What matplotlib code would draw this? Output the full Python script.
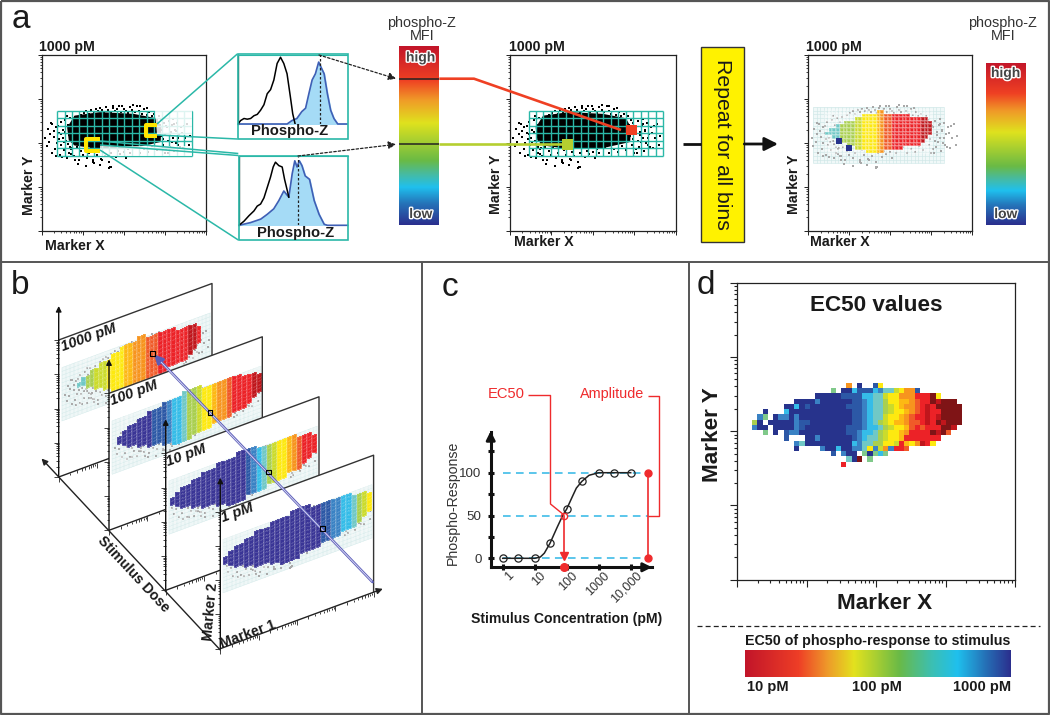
import numpy as np
import matplotlib
matplotlib.use("Agg")
import matplotlib.pyplot as plt
from matplotlib.colors import ListedColormap, BoundaryNorm, LinearSegmentedColormap
from matplotlib.patches import Polygon, Rectangle
from matplotlib.transforms import ScaledTranslation
from matplotlib import patheffects as pe

plt.rcParams['font.family'] = ['Liberation Sans', 'DejaVu Sans']
W, H = 1050, 715
DARK = '#222222'
TEAL = '#2bb8a8'

# ---------- data ----------
CODES = "ABCDEFgGHIJKLMNP"
CODE_COLORS = ['#27338c', '#2c58a6', '#3a82c4', '#35bce8', '#70c8c6', '#a9cf4f', '#80c98a', '#cbdb2c',
               '#fde910', '#fdb813', '#f7941e', '#f05a28', '#ec2227', '#c0161c', '#7f1416', '#3a3596']

ec50_rows = [
    "                  J A  BH               ",
    "               g AADBBBDCEEGHJJB        ",
    "            AAAAABBBBDDEEGHHJJJLLLNH    ",
    "        AAAACAAAAAABBCDEEFHHIIJKLLNMNNN ",
    "      AADABAAAAAAABBBCDEEFGHIJJKLMLNNNNN",
    "  A   DAAAAAAAAAAAABBCDEEFGHHIJKLMLLNNNN",
    " Cg ACCACAAAAAAAAAABBCDEEGHHIJKLLMLMNNNN",
    "FA AAAAACBBAAAAAAAABBCDEFGHIIJKKLMLNMNNN",
    "CAA AAAACBAAAAAAAABBBCDDEFGHHIKLKLLLNNM ",
    "  g A BCCAAAAAAAAABBCDDEFGHHIJLLLLNMNK  ",
    "      B   AACAAAAAABCDEEFGHHILLLLLLL    ",
    "        CEAAAAAAAAADCEEFFHHGLIHJMLH     ",
    "        A    CAADAACCEHCGJCLLK          ",
    "               B CAA gAgDg              ",
    "                  EAN g                 ",
    "                 L                      ",
]

mfi_row_spans = [(14, 15), (10, 22), (8, 27), (5, 28), (3, 28), (1, 28),
                 (0, 28), (2, 27), (4, 26), (6, 25), (8, 20), (11, 15)]
dose_row_spans = [(13, 16), (9, 24), (6, 27), (4, 28), (2, 28), (1, 28), (0, 28),
                  (0, 28), (1, 27), (2, 26), (4, 25), (6, 22), (9, 18), (11, 14)]
mfi_columns_a = "EEEEFFFFGGHHHHIJKKLLLLLLLLMMM"
dose_labels = ["1000 pM", "100 pM", "10 pM", "1 pM"]
dose_columns = ["EEFFGGGHHHHIIJJJKKKLLLLLLLMML",
                "PPPPPPPBBBCDDEFFGHHIJJKLLLLMM",
                "PPPPPPPPPPPPPPPBCDEFGHHIJKLLL",
                "PPPPPPPPPPPPPPPPPPPBBCCDDEFGH"]
dose_u_range = [(.12, .93), (.05, 1.0), (.03, .99), (.02, .99)]

dots_x = [.08,.12,.15,.18,.21,.24,.26,.3,.33,.35,.37,.41,.44,.46,.48,.51,.53,.55,.58,.6,.62,.64,.66,.68,.7,.72,.74,.76,.78,.8,.82,.84,.5,.43,.36,.29,.22,.57,.63,.69,.75,.81,.4,.47,.54,.61,.67,.73,.79,.85,
          .95,1.02,1.08,1.15,1.2,1.27,1.32,1.38,1.43,1.47,1.52,1.58,1.62,1.68,1.73,1.78,1.84,1.89,1.93,2.0,2.05,2.1,2.16,2.21,2.27,2.33,2.38,2.45,2.5,2.56,2.62,2.68,2.74,2.8,2.86,1.74,1.97,2.22,2.4,2.58,
          2.88,2.9,2.93,2.95,2.98,3.0,3.03,3.05,3.08,3.1,3.12,3.15,3.18,3.2,3.23,3.25,3.28,3.3,3.33,3.36,3.4,3.45,3.5,3.55,3.6,2.92,2.97,3.02,3.07,3.13,3.17,3.22,3.27,3.32,3.38,3.43,3.48,3.62,3.2,3.0,
          .72,.78,.85,.9,.95,1.0,1.05,1.1,1.15,1.2,1.25,1.3,1.35,1.4,1.45,1.5,1.55,1.6,1.65,1.7,1.75,1.8,1.85,1.9,1.95,2.0,2.05,2.1,2.15,2.2,2.3,2.4,2.5,2.6,2.7,2.8,.88,1.08,1.28,1.48,1.68,1.64,1.66,1.43,1.25]
dots_y = [2.1,1.92,2.31,2.02,2.2,1.78,2.42,2.13,1.86,2.35,2.0,2.23,1.72,2.47,1.95,2.11,2.3,1.83,2.52,2.05,1.66,2.4,2.18,1.9,2.56,1.75,2.27,2.0,2.48,1.6,2.15,2.38,1.68,2.09,1.7,2.28,2.45,2.24,1.98,2.36,1.88,2.58,2.38,2.2,2.02,2.6,1.78,2.12,1.7,2.3,
          2.63,2.68,2.72,2.66,2.74,2.7,2.78,2.73,2.8,2.75,2.71,2.82,2.74,2.69,2.79,2.72,2.76,2.84,2.7,2.77,2.73,2.68,2.81,2.74,2.7,2.83,2.72,2.66,2.78,2.63,2.7,2.6,2.66,2.55,2.62,2.85,2.84,2.86,2.84,2.8,
          2.4,2.15,2.3,1.95,2.45,2.2,1.85,2.35,2.05,2.5,1.9,2.25,2.4,2.1,1.82,2.3,2.0,2.45,1.95,2.2,2.35,1.88,2.1,2.42,1.95,2.52,2.08,2.38,1.78,2.18,2.02,2.44,2.28,2.12,1.9,2.22,2.38,2.15,2.55,1.76,
          1.85,1.7,1.9,1.62,1.82,1.72,1.88,1.66,1.78,1.9,1.6,1.84,1.72,1.92,1.64,1.8,1.7,1.88,1.56,1.76,1.9,1.68,1.82,1.74,1.9,1.8,1.66,1.86,1.76,1.88,1.9,1.78,1.86,1.8,1.92,1.84,1.52,1.48,1.55,1.6,1.46,1.42,1.44,1.5,1.56]
blob_x = [.62, .80, 1.42, 2.24, 2.80, 2.92, 2.90, 2.24, 1.42, .80, .66]
blob_y = [2.35, 2.62, 2.70, 2.66, 2.56, 2.35, 2.02, 1.88, 1.86, 1.94, 2.06]

hist1_ctrl_x = [0, 2.4, 5.5, 8.5, 11.6, 14.6, 17.7, 20.7, 23.8, 26.8, 29.9, 32.9, 35.9, 39, 42, 45, 48, 50.2, 52.4]
hist1_ctrl_y = [0, 5, 8, 7, 8, 12, 14, 20, 28, 44, 50, 64, 88, 97, 88, 73, 40, 15, 0]
hist1_stim_x = [0, 45, 49.5, 54, 58.5, 62, 65, 68, 71, 74, 76, 79, 82, 85, 88, 91.5, 100]
hist1_stim_y = [0, 0, 5, 8, 18, 23, 44, 64, 73, 90, 83, 73, 44, 20, 8, 0, 0]
hist2_ctrl_x = [0, 4.6, 9.2, 13.8, 16.8, 19.9, 23, 26, 29, 31.5, 33.6, 36.7, 39.8, 42, 44.9, 45.9]
hist2_ctrl_y = [0, 6, 14, 21, 28, 31, 40, 55, 70, 85, 92, 87, 85, 67, 48, 41]
hist2_stim_x = [0, 10.7, 20, 26, 32, 36.7, 41.3, 45.9, 49, 51.4, 53.5, 55.6, 58, 61, 65, 69.3, 73.8, 78.5, 81.5, 100]
hist2_stim_y = [0, 4, 9, 16, 24, 36, 50, 41, 75, 94, 85, 94, 87, 72, 67, 36, 16, 1.5, 0, 0]

conc = [1, 3, 10, 30, 100, 300, 1000, 3000, 10000]
response = [0, 0, 0, 17.5, 57.6, 90, 100, 100, 100]
curve_conc = [1, 10, 15, 20, 30, 50, 75, 100, 150, 200, 300, 500, 1000, 10000]
curve_resp = [0, 0, 1.5, 6, 17.5, 36, 50, 57.6, 72, 82, 90, 97, 100, 100]
conc_ticks = [1, 10, 100, 1000, 10000]
conc_labels = ["1", "10", "100", "1000", "10,000"]
resp_ticks = [0, 25, 50, 75, 100, 125]
ec50_value = 80
amplitude_conc = 35000

mfi_cmap = LinearSegmentedColormap.from_list("mfi", [
    (0, '#2b2f8e'), (.12, '#2574b9'), (.21, '#1fc0ee'), (.28, '#45bba5'), (.36, '#6aba45'),
    (.57, '#dfe21e'), (.70, '#f09a28'), (.81, '#ef4023'), (1, '#c2152a')])
ec_cmap = LinearSegmentedColormap.from_list("ec", [
    (0, '#c2152a'), (.2, '#ee3e26'), (.31, '#ee9a2a'), (.41, '#e3e21e'), (.58, '#6aba47'),
    (.70, '#3dbfb0'), (.8, '#1fc0ee'), (.9, '#2575b9'), (1, '#2b2f8e')])

# ---------- helpers ----------
fig = plt.figure(figsize=(W / 100, H / 100), dpi=100, facecolor='white')
cmap = ListedColormap(CODE_COLORS)
norm = BoundaryNorm(np.arange(len(CODES) + 1) - .5, len(CODES))


def axes_px(l, t, r, b, **kw):
    return fig.add_axes([l / W, 1 - b / H, (r - l) / W, (b - t) / H], **kw)


def rows_to_array(rows):
    a = np.full((len(rows), len(rows[0])), np.nan)
    for i, row in enumerate(rows):
        for j, c in enumerate(row):
            if c != ' ':
                a[i, j] = CODES.index(c)
    return np.ma.masked_invalid(a)


def spans_to_array(spans, columns):
    rows = []
    for s, e in spans:
        rows.append(''.join(columns[j] if s <= j <= e else ' ' for j in range(len(columns))))
    return rows_to_array(rows)


def log_positions():
    major = [float(i) for i in range(5)]
    minor = [n + np.log10(k) for n in range(4) for k in range(2, 10)]
    return major, minor


def flow_axes(l, t, r, b):
    ax = axes_px(l, t, r, b)
    ax.set_xlim(0, 4)
    ax.set_ylim(0, 4)
    major, minor = log_positions()
    ax.set_xticks(major)
    ax.set_yticks(major)
    ax.set_xticks(minor, minor=True)
    ax.set_yticks(minor, minor=True)
    ax.set_xticklabels([])
    ax.set_yticklabels([])
    ax.tick_params(which='major', length=3.2, width=.7, color=DARK)
    ax.tick_params(which='minor', length=1.6, width=.6, color=DARK)
    for s in ax.spines.values():
        s.set_linewidth(.9)
        s.set_color(DARK)
    return ax


def grid_lines(ax, x0, x1, y0, y1, nx, ny, color, lw, alpha=1, z=3):
    for x in np.linspace(x0, x1, nx + 1):
        ax.plot([x, x], [y0, y1], color=color, lw=lw, alpha=alpha, zorder=z, solid_capstyle='butt')
    for y in np.linspace(y0, y1, ny + 1):
        ax.plot([x0, x1], [y, y], color=color, lw=lw, alpha=alpha, zorder=z, solid_capstyle='butt')


def gradient(l, t, r, b, cm, vertical=True):
    ax = axes_px(l, t, r, b)
    g = np.linspace(1, 0, 256)[:, None] if vertical else np.linspace(0, 1, 256)[None, :]
    ax.imshow(g, aspect='auto', cmap=cm, vmin=0, vmax=1)
    ax.axis('off')
    return ax


def histogram(l, t, r, b, cx, cy, sx, sy, med):
    ax = axes_px(l, t, r, b)
    ax.set_xlim(0, 100)
    ax.set_ylim(0, 101)
    ax.set_xticks([])
    ax.set_yticks([])
    ax.fill_between(sx, sy, color='#a5dbf6', zorder=1)
    ax.plot(sx, sy, color='#3f5fb5', lw=1.2, zorder=2, clip_on=False)
    ax.plot(cx, cy, color='black', lw=1.1, zorder=3)
    ax.plot([med, med], [0, 100], color=DARK, lw=.9, ls=(0, (2, 1.6)), zorder=4)
    for k in ('right', 'bottom'):
        ax.spines[k].set_visible(False)
    ax.spines['left'].set_linewidth(1.0)
    ax.spines['top'].set_color(TEAL)
    ax.spines['left'].set_color('#2c4a44')
    return ax


# ---------- panel a ----------
ax1 = flow_axes(41.7, 55, 205.7, 230.7)
ax2 = flow_axes(510, 55, 675.7, 230.7)
ax3 = flow_axes(808.3, 55, 972.3, 230.7)
for ax in (ax1, ax2):
    ax.fill(blob_x, blob_y, color='black', zorder=2, lw=0)
    ax.scatter(dots_x, dots_y, s=3.6, color='black', marker='s', lw=0, zorder=2)
grid_lines(ax1, .374, 3.66, 1.71, 2.73, 18, 6, TEAL, 1.0)
grid_lines(ax2, .447, 3.70, 1.71, 2.73, 18, 6, TEAL, 1.0)
ax3.add_patch(Rectangle((.114, 1.53), 3.186, 1.29, fc='#f0f8f8', ec='none', zorder=.5))
ax3.scatter(dots_x, dots_y, s=.9, color='#a8a8a8', marker='s', lw=0, zorder=2)
grid_lines(ax3, .114, 3.30, 1.53, 2.82, 36, 15, '#cfe8e8', .45, z=1)
heat_xe = np.linspace(.41, 3.02, len(mfi_columns_a) + 1)
heat_ye = np.linspace(2.75, 1.76, len(mfi_row_spans) + 1)
ax3.pcolormesh(heat_xe, heat_ye, spans_to_array(mfi_row_spans, mfi_columns_a), cmap=cmap, norm=norm,
               edgecolors=(1, 1, 1, .22), linewidth=.3, zorder=3)
ax3.scatter([1.0, .75], [1.88, 2.04], s=14, marker='s', color=CODE_COLORS[0], lw=0, zorder=4)
ax2.scatter([2.93, 1.39], [2.29, 1.96], s=60, marker='s', color=['#ef4023', '#b5cf30'], lw=0, zorder=5)

gradient(399.3, 46, 439.3, 225, mfi_cmap)
gradient(985.7, 62.7, 1025.7, 225.3, mfi_cmap)

h1 = histogram(238, 54.5, 347, 124, hist1_ctrl_x, hist1_ctrl_y, hist1_stim_x, hist1_stim_y, 75)
h2 = histogram(239, 156, 347.5, 225.3, hist2_ctrl_x, hist2_ctrl_y, hist2_stim_x, hist2_stim_y, 54.4)

# ---------- panel c ----------
axc = axes_px(490.7, 431.7, 651.7, 567.3)
axc.set_xscale('log')
axc.set_xlim(10 ** (-12 / 32), 10 ** (149 / 32))
axc.set_ylim(-10.5, 147.9)
axc.patch.set_alpha(0)
for k in ('top', 'right'):
    axc.spines[k].set_visible(False)
for k in ('left', 'bottom'):
    axc.spines[k].set_linewidth(2.2)
    axc.spines[k].set_color('#111111')
axc.minorticks_off()
axc.set_xticks(conc_ticks)
axc.set_xticklabels(conc_labels, rotation=45, ha='right', rotation_mode='anchor', fontsize=9, color='#333333')
axc.set_yticks(resp_ticks)
axc.set_yticklabels(['0', '', '50', '', '100', ''], fontsize=9.6, color='#333333')
axc.tick_params(axis='both', which='major', length=5, width=2.2, color='#111111', direction='inout')
axc.tick_params(axis='y', pad=4)
axc.tick_params(axis='x', pad=0)
shift = ScaledTranslation(5 / 100, 1 / 100, fig.dpi_scale_trans)
for lb in axc.get_xticklabels():
    lb.set_transform(lb.get_transform() + shift)
for r_ in (0, 50, 100):
    axc.plot([1, amplitude_conc], [r_, r_], color='#2fb6e6', lw=1.1, ls=(0, (5, 3.5)), zorder=2, clip_on=False)
axc.plot(curve_conc, curve_resp, color='#222222', lw=1.1, zorder=3)
axc.plot(conc, response, ls='none', marker='o', ms=5.2, mfc='none', mec='#222222', mew=.9, zorder=4)
axc.plot([amplitude_conc, amplitude_conc], [0, 100], color='#ef2b2d', lw=1.2, marker='o', ms=5, zorder=5)
axc.plot([ec50_value], [50], marker='o', ms=4.5, mfc='none', mec='#ef2b2d', mew=1, zorder=6)
axc.plot([ec50_value, ec50_value], [50, 0], color='#ef2b2d', lw=1.2, zorder=5)
axc.plot([ec50_value], [3], marker='v', ms=5.5, color='#ef2b2d', zorder=6)
axc.plot([ec50_value], [-10.5], marker='o', ms=5.5, color='#ef2b2d', zorder=7, clip_on=False)

# ---------- panel d ----------
axd = flow_axes(737, 282.7, 1015, 579.7)
axd.tick_params(which='major', length=5, width=.8)
axd.tick_params(which='minor', length=2.5, width=.8)
d_xe = np.linspace(.216, 3.237, len(ec50_rows[0]) + 1)
d_ye = np.linspace(2.653, 1.518, len(ec50_rows) + 1)
axd.pcolormesh(d_xe, d_ye, rows_to_array(ec50_rows), cmap=cmap, norm=norm)
gradient(744.7, 650.3, 1010, 677.3, ec_cmap, vertical=False)

# ---------- overlay in pixel space ----------
ov = fig.add_axes([0, 0, 1, 1], zorder=10)
ov.patch.set_alpha(0)
ov.axis('off')
ov.set_xlim(0, W)
ov.set_ylim(H, 0)


def T(x, y, s, size, weight='bold', rot=0, color='#1a1a1a', ha='center', z=50, style='normal', halo=False):
    t = ov.text(x, y, s, fontsize=size, fontweight=weight, rotation=rot, color=color, ha=ha, va='center',
                zorder=z, style=style, rotation_mode='anchor')
    if halo:
        t.set_path_effects([pe.withStroke(linewidth=2, foreground='white')])
    return t


def L(xs, ys, color=DARK, lw=1.0, z=20, **kw):
    ov.plot(xs, ys, color=color, lw=lw, zorder=z, solid_capstyle=kw.pop('cap', 'butt'), **kw)


def arrow(p0, p1, color=DARK, lw=1.0, ms=9, z=30, ls='-'):
    ov.annotate('', xy=p1, xytext=p0, zorder=z,
                arrowprops=dict(arrowstyle='-|>', color=color, lw=lw, mutation_scale=ms, shrinkA=0, shrinkB=0, ls=ls))


# frames
BORDER = '#555555'
L([1, 1049, 1049, 1, 1], [1, 1, 714, 714, 1], BORDER, 1.6)
L([0, 1050], [262, 262], BORDER, 1.4)
L([421.5, 421.5], [262, 715], BORDER, 1.4)
L([689, 689], [262, 715], BORDER, 1.4)
T(20.5, 19, 'a', 24, 'normal')
T(20.5, 285, 'b', 24, 'normal')
T(450, 288, 'c', 24, 'normal')
T(705.5, 285, 'd', 24, 'normal')

# panel a fading of unused grid
ov.add_patch(Polygon([(155, 110), (192, 110), (192, 135), (157, 135)], fc='white', alpha=.85, lw=0, zorder=4))
ov.add_patch(Polygon([(100, 146), (192, 146), (192, 156), (100, 156)], fc='white', alpha=.8, lw=0, zorder=4))

# yellow selection boxes and callouts
YEL = '#ffe600'
L([157, 145.5, 145.5, 157], [124.5, 124.5, 136, 136], YEL, 2.9, z=8)
L([100, 85.5, 85.5, 100], [138.5, 138.5, 151, 151], YEL, 2.9, z=8)
for p, q in [((157, 124), (237.3, 54)), ((157, 135), (237.3, 139)), ((100, 141), (238.3, 153.5)),
             ((100, 145), (238.3, 155.5)), ((100, 150), (238.3, 240))]:
    L([p[0], q[0]], [p[1], q[1]], TEAL, 1.1, z=9)
ov.add_patch(Rectangle((237.5, 54), 110, 85, fc='none', ec=TEAL, lw=1.2, zorder=9))
ov.add_patch(Rectangle((238.5, 155.5), 109.5, 84.5, fc='none', ec=TEAL, lw=1.2, zorder=9))
T(290, 131, 'Phospho-Z', 10.6)
T(296, 232.5, 'Phospho-Z', 10.6)
arrow((319, 55), (396, 78.7), ls=(0, (2, 1.6)), lw=.9, ms=11)
arrow((298, 156), (396, 144.3), ls=(0, (2, 1.6)), lw=.9, ms=11)

# middle colour bar connections
L([399.3, 439.3], [78.7, 78.7], '#222222', 1.1, z=12)
L([399.3, 439.3], [144.3, 144.3], '#222222', 1.1, z=12)
L([439.3, 474, 621], [78.7, 78.7, 130], '#ef4023', 1.9, z=12)
L([439.3, 568], [144.3, 144.3], '#b5cf30', 1.9, z=12)

for x, top, low in [(420.7, 57.5, 214), (1005.7, 73, 214)]:
    T(x, top, 'high', 10, 'bold', color='#444444', halo=True)
    T(x, low, 'low', 10, 'bold', color='#444444', halo=True)
for x in (421.7, 1002.7):
    T(x, 23, 'phospho-Z', 10.4, 'normal', color='#333333')
    T(x, 36, 'MFI', 10.4, 'normal', color='#333333')
for x in (66.7, 537, 834):
    T(x, 47.5, '1000 pM', 10.2)
T(75.3, 245.5, 'Marker X', 10.2)
T(543.7, 242, 'Marker X', 10.2)
T(840, 242, 'Marker X', 10.2)
T(29.3, 185, 'Marker Y', 10.2, rot=90)
T(495.7, 184, 'Marker Y', 10.2, rot=90)
T(794, 184, 'Marker Y', 10.2, rot=90)

L([682.7, 701], [144, 144], '#111111', 2.0)
ov.add_patch(Rectangle((701, 46.7), 43.3, 195.3, fc='#fff200', ec='#333333', lw=1.0, zorder=15))
T(722.5, 144.8, 'Repeat for all bins', 15.3, 'normal', rot=270, z=16)
arrow((744.3, 144), (778, 144), color='#111111', lw=2.0, ms=20)

# ---------- panel b ----------
panel_bl = [(58.7, 477), (109, 530.3), (165.7, 590.3), (220.3, 648.7)]
U = np.array([153.3, -56.5])
V = np.array([0, -137.0])
major, minor = log_positions()
label_pos = [(88.5, 338), (133.5, 392.5), (186.5, 455), (237.7, 512.5)]

for i, (bl, lab) in enumerate(zip(panel_bl, dose_labels)):
    base = 100 + i * 20
    bl = np.array(bl)
    pt = lambda u, v: bl + u * U + v * V
    corners = [pt(0, 0), pt(1, 0), pt(1, 1), pt(0, 1)]
    ov.add_patch(Polygon(corners, fc='white', ec='none', zorder=base))
    ov.add_patch(Polygon([pt(.02, .40), pt(.99, .40), pt(.99, .79), pt(.02, .79)], fc='#eff7f7', ec='none', zorder=base))
    # binned grid
    for u in np.linspace(.02, .99, 37):
        a, b_ = pt(u, .40), pt(u, .79)
        L([a[0], b_[0]], [a[1], b_[1]], '#cfe8e8', .3, z=base + 1)
    for v in np.linspace(.40, .79, 15):
        a, b_ = pt(.02, v), pt(.99, v)
        L([a[0], b_[0]], [a[1], b_[1]], '#cfe8e8', .3, z=base + 1)
    # background events
    u_d = .02 + np.array(dots_x) / 3.66 * .97
    v_d = .40 + (np.array(dots_y) - 1.42) / 1.44 * .39
    pd_ = np.array([pt(u, v) for u, v in zip(u_d, v_d)])
    ov.scatter(pd_[:, 0], pd_[:, 1], s=.8, color='#aaaaaa', lw=0, marker='s', zorder=base + 2)
    # heat cells
    arr = spans_to_array(mfi_row_spans if i == 0 else dose_row_spans, dose_columns[i])
    u0, u1 = dose_u_range[i]
    ue = np.linspace(u0, u1, arr.shape[1] + 1)
    ve = np.linspace(.81, .45, arr.shape[0] + 1)
    UU, VV = np.meshgrid(ue, ve)
    X = bl[0] + UU * U[0] + VV * V[0]
    Y = bl[1] + UU * U[1] + VV * V[1]
    ov.pcolormesh(X, Y, arr, cmap=cmap, norm=norm, zorder=base + 3, edgecolors=(1, 1, 1, .12), linewidth=.2)
    # frame
    tr, br, tl = pt(1, 1), pt(1, 0), pt(0, 1)
    L([tl[0], tr[0], br[0]], [tl[1], tr[1], br[1]], '#333333', 1.0, z=base + 4)
    end = pt(1.06, 0) if i == 3 else br
    if i == 3:
        arrow(tuple(bl), tuple(end), color='#222222', lw=1.0, ms=9, z=base + 5)
    else:
        L([bl[0], end[0]], [bl[1], end[1]], '#222222', 1.0, z=base + 4)
    arrow(tuple(pt(0, 0)), (bl[0], bl[1] - 171), color='#111111', lw=1.0, ms=8, z=base + 5)
    # log ticks
    for vals, ln in ((major, 5), (minor, 2.5)):
        for m in vals:
            f = m / 4
            a = pt(f, 0)
            L([a[0], a[0]], [a[1], a[1] + ln], '#222222', .6, z=base + 4)
            c = pt(0, f)
            L([c[0] - ln, c[0]], [c[1], c[1]], '#222222', .6, z=base + 4)
    T(*label_pos[i], lab, 10.5, rot=20, style='italic', z=base + 6)

# depth axis, labels, transit line
arrow((220.3, 650), (41.5, 458.5), color='#222222', lw=1.0, ms=9, z=190)
T(133.5, 574, 'Stimulus Dose', 10.2, rot=-47, z=190)
T(248, 634.5, 'Marker 1', 10.2, rot=20, z=190)
T(210.5, 612, 'Marker 2', 10.2, rot=85, z=190)
arrow((372.5, 582), (154, 354.5), color='#5a5cb8', lw=1.9, ms=13, z=195)
L([372, 161], [581.5, 362], '#d6d6f2', .7, z=196)
for xz, yz in [(458, 275), (630, 452), (806, 630), (968, 800)]:
    ov.scatter([xz / 3], [262 + yz / 3], s=10, marker='s', fc='none', ec='black', lw=.8, zorder=197)

# ---------- panel c annotations ----------
RED = '#ef2b2d'
T(506, 394, 'EC50', 10.6, 'normal', color=RED)
T(611.7, 394, 'Amplitude', 10.4, 'normal', color=RED)
L([528.5, 550.5, 550.5, 564], [395.5, 395.5, 504, 515], RED, 1.0)
L([648, 659, 659, 648], [395.5, 395.5, 515.5, 515.5], RED, 1.0)
T(453, 503, 'Phospho-Response', 10.2, 'normal', rot=90, color='#333333')
T(566.7, 619.3, 'Stimulus Concentration (pM)', 10.1)
arrow((490.7, 440), (490.7, 431), color='#111111', lw=2.0, ms=13)
arrow((640, 567.3), (652, 567.3), color='#111111', lw=2.0, ms=13)

# ---------- panel d annotations ----------
T(876, 305.3, 'EC50 values', 16.2)
T(885, 603.7, 'Marker X', 16.2)
T(712.7, 434.7, 'Marker Y', 16.2, rot=90)
L([697, 1040], [625.7, 625.7], '#222222', .9, ls=(0, (4, 2.5)))
T(878, 641.3, 'EC50 of phospho-response to stimulus', 10.3)
T(768, 687.3, '10 pM', 10.5)
T(876.7, 687.3, '100 pM', 10.5)
T(981.7, 687.3, '1000 pM', 10.5)

fig.savefig('out.png', dpi=100)
